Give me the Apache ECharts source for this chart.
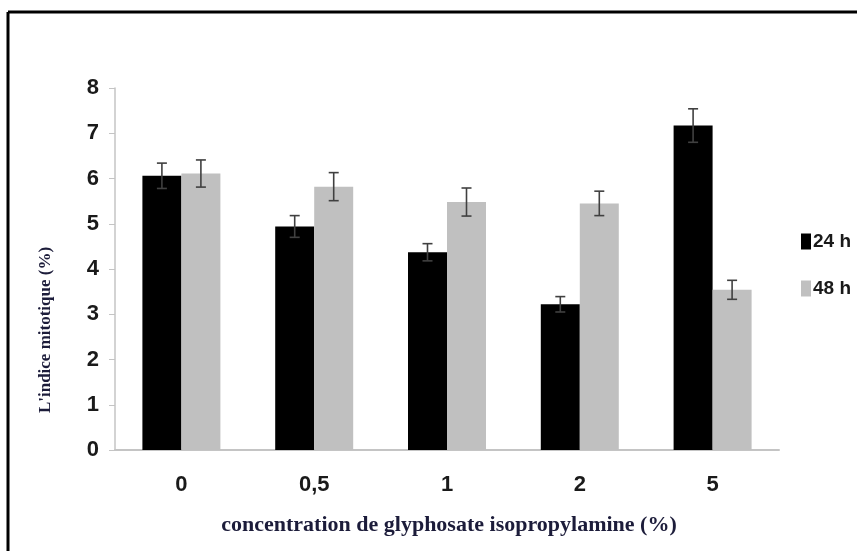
<!DOCTYPE html>
<html>
<head>
<meta charset="utf-8">
<script src="https://cdn.jsdelivr.net/npm/echarts@6/dist/echarts.min.js"></script>
<style>
html,body{margin:0;padding:0;background:#fff;}
#c{width:857px;height:551px;}
</style>
</head>
<body>
<div id="c"></div>
<script>
var categories = ['0', '0,5', '1', '2', '5'];
var seriesNames = ['24 h', '48 h'];
var values24 = [6.06, 4.94, 4.37, 3.22, 7.17];
var values48 = [6.11, 5.82, 5.48, 5.45, 3.54];
var err24 = [0.28, 0.24, 0.19, 0.17, 0.37];
var err48 = [0.30, 0.31, 0.31, 0.27, 0.21];
var yTicks = [0, 1, 2, 3, 4, 5, 6, 7, 8];

var BAR_W = 39;
var sansB = "'Liberation Sans', Arial, sans-serif";
var serif = "'Liberation Serif', 'Times New Roman', serif";

function errSeries(vals, errs, sign) {
  var data = vals.map(function (v, i) { return [i, v, errs[i]]; });
  return {
    type: 'custom',
    silent: true,
    z: 10,
    data: data,
    renderItem: function (params, api) {
      var i = api.value(0), v = api.value(1), e = api.value(2);
      var top = api.coord([i, v + e]);
      var bot = api.coord([i, v - e]);
      var x = top[0] + sign * BAR_W / 2;
      var cap = 5;
      var st = { stroke: '#404040', lineWidth: 1.6 };
      return {
        type: 'group',
        children: [
          { type: 'line', shape: { x1: x, y1: top[1], x2: x, y2: bot[1] }, style: st },
          { type: 'line', shape: { x1: x - cap, y1: top[1], x2: x + cap, y2: top[1] }, style: st },
          { type: 'line', shape: { x1: x - cap, y1: bot[1], x2: x + cap, y2: bot[1] }, style: st }
        ]
      };
    }
  };
}

var chart = echarts.init(document.getElementById('c'));
chart.setOption({
  backgroundColor: '#fff',
  animation: false,
  grid: { left: 115, right: 78, top: 88, bottom: 101 },
  legend: {
    orient: 'vertical',
    left: 796,
    top: 227,
    icon: 'rect',
    itemWidth: 10,
    itemHeight: 16,
    itemGap: 28,
    data: seriesNames,
    itemStyle: { borderWidth: 0 },
    textStyle: { fontFamily: sansB, fontWeight: 'bold', fontSize: 19, color: '#1a1a1a', padding: [0, 0, 0, -3] }
  },
  xAxis: {
    type: 'category',
    data: categories,
    axisLine: { lineStyle: { color: '#c4c4c4', width: 2 } },
    axisTick: { show: false },
    axisLabel: { margin: 24, fontFamily: sansB, fontWeight: 'bold', fontSize: 22, color: '#1a1a1a' }
  },
  yAxis: {
    type: 'value',
    min: 0, max: 8, interval: 1,
    splitLine: { show: false },
    axisLine: { show: true, lineStyle: { color: '#c4c4c4', width: 1.5 } },
    axisTick: { show: true, length: 6, lineStyle: { color: '#c4c4c4' } },
    axisLabel: {
      margin: 16, fontFamily: sansB, fontWeight: 'bold', fontSize: 22, color: '#1a1a1a',
      formatter: function (v) { return yTicks.indexOf(v) >= 0 ? String(v) : ''; }
    }
  },
  graphic: [
    { type: 'line', shape: { x1: 8, y1: 12, x2: 8, y2: 551 }, style: { stroke: '#000', lineWidth: 3 } },
    { type: 'line', shape: { x1: 8, y1: 12, x2: 857, y2: 12 }, style: { stroke: '#000', lineWidth: 3 } },
    {
      type: 'text', x: 46, y: 330, rotation: Math.PI / 2,
      style: {
        text: "L'indice mitotique (%)", fontFamily: serif,
        fontWeight: 'bold', fontSize: 17, fill: '#1c1c3a', textAlign: 'center', textVerticalAlign: 'middle'
      }
    },
    {
      type: 'text', x: 449, y: 525,
      style: {
        text: 'concentration de glyphosate isopropylamine (%)', fontFamily: serif,
        fontWeight: 'bold', fontSize: 22, fill: '#1c1c3a', textAlign: 'center', textVerticalAlign: 'middle'
      }
    }
  ],
  series: [
    { name: seriesNames[0], type: 'bar', data: values24, barWidth: BAR_W, barGap: '0%',
      itemStyle: { color: '#000' } },
    { name: seriesNames[1], type: 'bar', data: values48, barWidth: BAR_W, barGap: '0%',
      itemStyle: { color: '#c0c0c0' } },
    errSeries(values24, err24, -1),
    errSeries(values48, err48, 1)
  ]
});
</script>
</body>
</html>
